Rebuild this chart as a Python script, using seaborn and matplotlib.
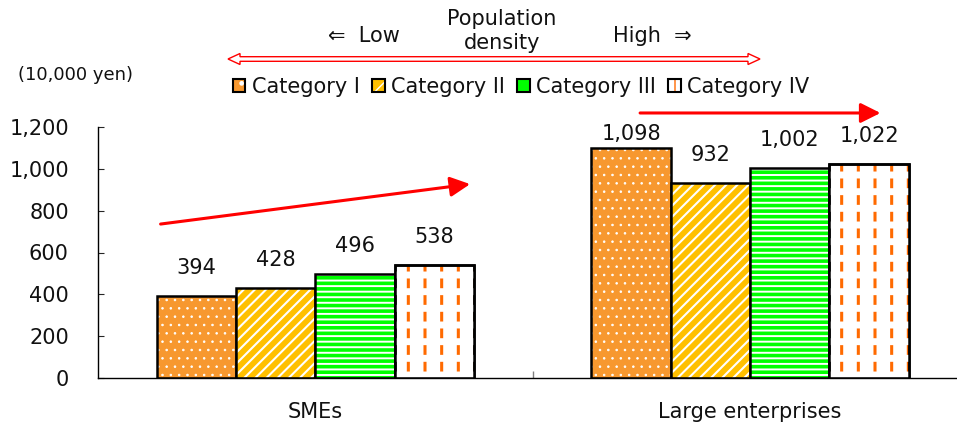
import matplotlib
matplotlib.use("Agg")
import matplotlib.pyplot as plt
import seaborn as sns
import pandas as pd
from matplotlib.patches import Patch, Rectangle, Polygon
from matplotlib.ticker import FuncFormatter
from matplotlib.colors import to_rgba

# ---- data ----
groups = ["SMEs", "Large enterprises"]
categories = ["Category I", "Category II", "Category III", "Category IV"]
values_sme = [394, 428, 496, 538]
values_large = [1098, 932, 1002, 1022]
y_ticks = [0, 200, 400, 600, 800, 1000, 1200]

# ---- styles ----
face_colors = ["#F7982F", "#FFC000", "#00FF00", "#FFFFFF"]
hatches = ["..", "///", "---", "|"]
hatch_colors = ["#FFFFFF", "#FFFFFF", "#FFFFFF", "#FF6A00"]
hatch_lws = [0.6, 1.5, 1.4, 2.2]

rows = []
for g, vals in zip(groups, [values_sme, values_large]):
    for c, v in zip(categories, vals):
        rows.append({"group": g, "category": c, "value": v})
df = pd.DataFrame(rows)

sns.set_style("white")
plt.rcParams["font.family"] = ["DejaVu Sans"]

W, H = 957, 422
fig = plt.figure(figsize=(W / 100, H / 100), dpi=100)
fx = lambda px: px / W
fy = lambda py: 1 - py / H
ax = fig.add_axes([fx(98), fy(378), fx(957) - fx(98), fy(127) - fy(378)])


def set_hatch_style(p, color, lw):
    try:
        p.set_hatchcolor(color)
    except Exception:
        p._hatch_color = to_rgba(color)
    try:
        p.set_hatch_linewidth(lw)
    except Exception:
        p._hatch_linewidth = lw


sns.barplot(data=df, x="group", y="value", hue="category", order=groups,
            hue_order=categories, palette=face_colors, saturation=1,
            width=0.73, edgecolor="black", linewidth=1.8, legend=False, ax=ax)

pads = {1098: 3}
for i, cont in enumerate(ax.containers):
    for bar in cont:
        bar.set_hatch(hatches[i])
        set_hatch_style(bar, hatch_colors[i], hatch_lws[i])
        if i == 3:
            # break vertical lines into dashes, then restore the edge on top
            ov = Rectangle(bar.get_xy(), bar.get_width(), bar.get_height(),
                           fill=False, linewidth=0, hatch="-", zorder=bar.get_zorder() + 0.1)
            set_hatch_style(ov, "#FFFFFF", 5.0)
            ax.add_patch(ov)
            ed = Rectangle(bar.get_xy(), bar.get_width(), bar.get_height(),
                           fill=False, edgecolor="black", linewidth=1.8,
                           zorder=bar.get_zorder() + 0.2)
            ax.add_patch(ed)
    vals = [values_sme[i], values_large[i]]
    for bar, v in zip(cont, vals):
        ax.annotate(f"{v:,}", xy=(bar.get_x() + bar.get_width() / 2, bar.get_height()),
                    xytext=(0, pads.get(v, 13)), textcoords="offset points",
                    ha="center", va="bottom", fontsize=15, color="#111111",
                    annotation_clip=False)

ax.set_ylim(0, 1200)
ax.set_xlim(-0.5, 1.476)
ax.set_yticks(y_ticks)
ax.yaxis.set_major_formatter(FuncFormatter(lambda v, p: f"{int(v):,}"))
ax.set_xticks([0, 1])
ax.set_xticklabels(groups)
ax.set_xticks([0.5], minor=True)
ax.tick_params(axis="x", which="major", length=0, pad=17, labelsize=15, labelcolor="#111111")
ax.tick_params(axis="x", which="minor", direction="in", length=5, color="gray", width=1,
               bottom=True)
ax.tick_params(axis="y", direction="in", length=4.5, width=0.8, pad=21, labelsize=15,
               labelcolor="#111111", left=True)
ax.set_xlabel("")
ax.set_ylabel("")
for s in ["top", "right"]:
    ax.spines[s].set_visible(False)
for s in ["left", "bottom"]:
    ax.spines[s].set_color("black")
    ax.spines[s].set_linewidth(1.0)

# trend arrows
arrow_kw = dict(arrowstyle="-|>,head_length=0.6,head_width=0.3", color="red",
                lw=2.2, shrinkA=0, shrinkB=0, mutation_scale=20)
ax.annotate("", xy=(0.356, 927), xytext=(-0.356, 736), arrowprops=arrow_kw,
            annotation_clip=False)
ax.annotate("", xy=(1.30, 1267), xytext=(0.747, 1267), arrowprops=arrow_kw,
            annotation_clip=False)

# unit label
fig.text(fx(18), fy(75), "(10,000 yen)", ha="left", va="center", fontsize=13, color="#111111")

# population density header
fig.text(fx(364), fy(36), "⇐  Low", ha="center", va="center", fontsize=15, color="#111111")
fig.text(fx(502), fy(31), "Population\ndensity", ha="center", va="center", fontsize=15,
         color="#111111", linespacing=1.2)
fig.text(fx(652), fy(36), "High  ⇒", ha="center", va="center", fontsize=15, color="#111111")

# hollow double arrow
x0, x1, yc = 228, 760, 59
hl, hh, sh = 12, 5.5, 2.3
pts = [(x0, yc), (x0 + hl, yc - hh), (x0 + hl, yc - sh), (x1 - hl, yc - sh), (x1 - hl, yc - hh),
       (x1, yc), (x1 - hl, yc + hh), (x1 - hl, yc + sh), (x0 + hl, yc + sh), (x0 + hl, yc + hh)]
fig.patches.append(Polygon([(fx(a), fy(b)) for a, b in pts], closed=True, transform=fig.transFigure,
                           facecolor="white", edgecolor="red", linewidth=1.0))

# legend
handles = []
for i, c in enumerate(categories):
    h = Patch(facecolor=face_colors[i], edgecolor="black", linewidth=1.5,
              hatch=hatches[i][0], label=c)
    set_hatch_style(h, hatch_colors[i], 1.5)
    handles.append(h)
fig.legend(handles=handles, loc="center", bbox_to_anchor=(fx(521), fy(87)), ncol=4,
           frameon=False, fontsize=15, handlelength=0.6, handleheight=0.6,
           handletextpad=0.3, columnspacing=0.6, borderpad=0, borderaxespad=0,
           labelcolor="#111111")

fig.savefig("out.png", dpi=100)
